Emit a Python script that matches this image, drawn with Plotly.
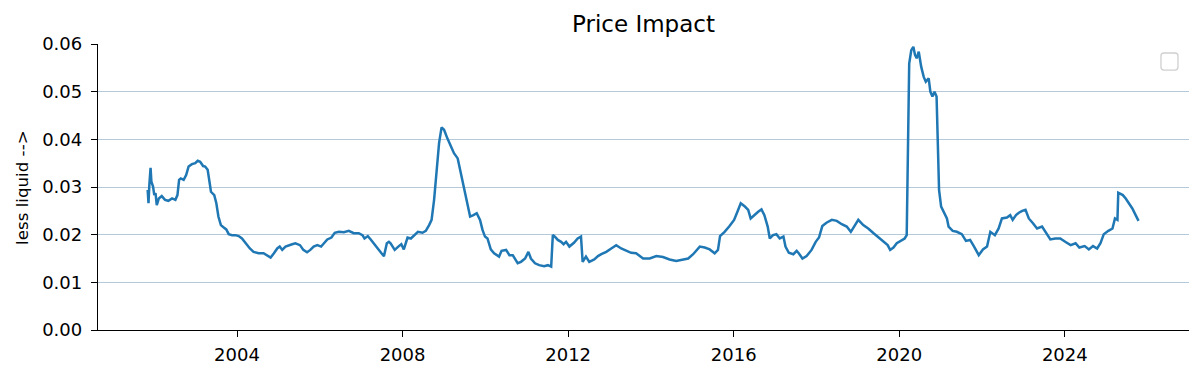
import pandas as pd
import plotly.graph_objects as go

# Decimal-year dates and price-impact values
years = [
    2001.84, 2001.86, 2001.88, 2001.91, 2001.93, 2001.97, 2002.00, 2002.03, 2002.06, 2002.11,
    2002.18, 2002.26, 2002.34, 2002.43, 2002.51, 2002.56, 2002.60, 2002.64, 2002.71, 2002.77,
    2002.83, 2002.91, 2002.99, 2003.05, 2003.11, 2003.18, 2003.23, 2003.29, 2003.34, 2003.37,
    2003.45, 2003.50, 2003.55, 2003.61, 2003.68, 2003.74, 2003.80, 2003.88, 2003.96, 2004.04,
    2004.12, 2004.20, 2004.31, 2004.40, 2004.52, 2004.64, 2004.73, 2004.81, 2004.89, 2004.97,
    2005.03, 2005.09, 2005.17, 2005.25, 2005.33, 2005.41, 2005.52, 2005.60, 2005.69, 2005.77,
    2005.85, 2005.94, 2006.03, 2006.10, 2006.18, 2006.28, 2006.36, 2006.46, 2006.58, 2006.70,
    2006.82, 2006.94, 2007.03, 2007.08, 2007.16, 2007.23, 2007.31, 2007.40, 2007.49, 2007.55,
    2007.62, 2007.67, 2007.71,
    2007.81, 2007.91, 2007.97, 2008.03, 2008.12, 2008.20, 2008.28, 2008.37, 2008.48, 2008.56,
    2008.64, 2008.70, 2008.76, 2008.83, 2008.88, 2008.94, 2009.00, 2009.08, 2009.18, 2009.24,
    2009.33, 2009.39, 2009.45, 2009.53, 2009.58, 2009.63, 2009.71, 2009.79, 2009.87, 2009.93,
    2009.99, 2010.05, 2010.13, 2010.21, 2010.33, 2010.39, 2010.50, 2010.58, 2010.66, 2010.78,
    2010.86, 2010.96, 2011.04, 2011.10, 2011.20, 2011.30, 2011.42, 2011.51, 2011.59, 2011.63,
    2011.68, 2011.75, 2011.83, 2011.89, 2011.95, 2012.03, 2012.14, 2012.23, 2012.31, 2012.35,
    2012.43, 2012.51, 2012.63, 2012.72, 2012.80, 2012.92, 2013.04, 2013.16, 2013.28, 2013.40,
    2013.52, 2013.64, 2013.81, 2013.97, 2014.13, 2014.29, 2014.45, 2014.61, 2014.73,
    2014.90, 2015.02, 2015.10, 2015.18, 2015.30, 2015.42, 2015.54, 2015.62, 2015.67, 2015.78,
    2015.90, 2016.01, 2016.09, 2016.17, 2016.27, 2016.35, 2016.41, 2016.49, 2016.59, 2016.67,
    2016.74, 2016.82, 2016.87, 2016.95, 2017.03, 2017.11, 2017.20, 2017.25, 2017.33, 2017.44,
    2017.52, 2017.57, 2017.66, 2017.76, 2017.88, 2017.98, 2018.06, 2018.14, 2018.24, 2018.37,
    2018.49, 2018.61, 2018.73, 2018.83, 2018.92, 2019.01, 2019.13, 2019.25, 2019.38, 2019.50,
    2019.62, 2019.72, 2019.78, 2019.86, 2019.94, 2020.04, 2020.13, 2020.18,
    2020.21, 2020.24, 2020.29, 2020.34, 2020.38, 2020.42, 2020.47, 2020.53, 2020.59, 2020.64,
    2020.71, 2020.75, 2020.80, 2020.85, 2020.90, 2020.93, 2020.96, 2021.01, 2021.09, 2021.15,
    2021.19, 2021.29, 2021.39, 2021.51, 2021.61, 2021.71, 2021.80, 2021.92, 2022.02, 2022.12,
    2022.20, 2022.31, 2022.40, 2022.48, 2022.60, 2022.68, 2022.74, 2022.82, 2022.89, 2022.97,
    2023.05, 2023.13, 2023.23, 2023.33, 2023.45, 2023.55, 2023.65, 2023.77, 2023.89, 2024.01,
    2024.14, 2024.26, 2024.35, 2024.48, 2024.58, 2024.68, 2024.78, 2024.86, 2024.94, 2025.05,
    2025.15, 2025.21, 2025.27, 2025.29, 2025.35, 2025.40, 2025.47, 2025.55, 2025.63, 2025.71,
    2025.78,
]

price_impact = [
    0.0294, 0.0266, 0.0304, 0.0340, 0.0311, 0.0301, 0.0283, 0.0287, 0.0262, 0.0276,
    0.0281, 0.0273, 0.0271, 0.0276, 0.0273, 0.0283, 0.0315, 0.0318, 0.0315, 0.0325,
    0.0343, 0.0348, 0.0350, 0.0355, 0.0353, 0.0344, 0.0343, 0.0336, 0.0308, 0.0290,
    0.0283, 0.0266, 0.0238, 0.0220, 0.0215, 0.0211, 0.0201, 0.0199, 0.0199, 0.0197,
    0.0192, 0.0182, 0.0171, 0.0164, 0.0161, 0.0161, 0.0157, 0.0152, 0.0161, 0.0171,
    0.0175, 0.0168, 0.0175, 0.0178, 0.0180, 0.0182, 0.0178, 0.0168, 0.0163, 0.0168,
    0.0175, 0.0178, 0.0175, 0.0182, 0.0190, 0.0194, 0.0204, 0.0206, 0.0205, 0.0208,
    0.0203, 0.0203, 0.0199, 0.0192, 0.0197, 0.0190, 0.0180, 0.0171, 0.0161, 0.0155,
    0.0182, 0.0185, 0.0182,
    0.0168, 0.0176, 0.0180, 0.0169, 0.0194, 0.0192, 0.0199, 0.0206, 0.0204, 0.0208,
    0.0220, 0.0231, 0.0273, 0.0343, 0.0392, 0.0425, 0.0420, 0.0402, 0.0381, 0.0371,
    0.0360, 0.0336, 0.0308, 0.0283, 0.0262, 0.0238, 0.0241, 0.0245, 0.0231, 0.0210,
    0.0196, 0.0192, 0.0169, 0.0161, 0.0154, 0.0166, 0.0168, 0.0157, 0.0157, 0.0140,
    0.0143, 0.0150, 0.0164, 0.0150, 0.0140, 0.0136, 0.0134, 0.0136, 0.0133, 0.0199,
    0.0196, 0.0189, 0.0185, 0.0180, 0.0185, 0.0175, 0.0183, 0.0192, 0.0196, 0.0143,
    0.0154, 0.0143, 0.0148, 0.0155, 0.0159, 0.0164, 0.0171, 0.0178, 0.0171, 0.0166,
    0.0162, 0.0161, 0.0150, 0.0150, 0.0155, 0.0153, 0.0148, 0.0145, 0.0147,
    0.0150, 0.0159, 0.0168, 0.0175, 0.0173, 0.0169, 0.0161, 0.0168, 0.0197, 0.0206,
    0.0218, 0.0231, 0.0248, 0.0266, 0.0259, 0.0252, 0.0234, 0.0241, 0.0248, 0.0253,
    0.0241, 0.0217, 0.0192, 0.0199, 0.0201, 0.0192, 0.0196, 0.0175, 0.0162, 0.0159,
    0.0166, 0.0161, 0.0150, 0.0155, 0.0168, 0.0185, 0.0194, 0.0218, 0.0225, 0.0231,
    0.0229, 0.0222, 0.0217, 0.0206, 0.0220, 0.0231, 0.0220, 0.0213, 0.0203, 0.0194,
    0.0187, 0.0178, 0.0168, 0.0173, 0.0182, 0.0187, 0.0192, 0.0199,
    0.0350, 0.0559, 0.0587, 0.0594, 0.0577, 0.0570, 0.0584, 0.0552, 0.0531, 0.0521,
    0.0528, 0.0500, 0.0490, 0.0500, 0.0490, 0.0385, 0.0294, 0.0259, 0.0245, 0.0234,
    0.0217, 0.0208, 0.0206, 0.0201, 0.0187, 0.0189, 0.0176, 0.0157, 0.0169, 0.0175,
    0.0206, 0.0199, 0.0213, 0.0234, 0.0236, 0.0241, 0.0231, 0.0241, 0.0246, 0.0250,
    0.0252, 0.0234, 0.0224, 0.0213, 0.0217, 0.0203, 0.0190, 0.0192, 0.0192, 0.0185,
    0.0178, 0.0182, 0.0173, 0.0176, 0.0169, 0.0176, 0.0171, 0.0182, 0.0201, 0.0208,
    0.0213, 0.0234, 0.0231, 0.0288, 0.0285, 0.0283, 0.0276, 0.0266, 0.0255, 0.0241,
    0.0229,
]

y_ticks = [0.00, 0.01, 0.02, 0.03, 0.04, 0.05, 0.06]
y_tick_labels = ["0.00", "0.01", "0.02", "0.03", "0.04", "0.05", "0.06"]
x_tick_years = [2004, 2008, 2012, 2016, 2020, 2024]
x_range_years = [2000.64, 2027.0]


def to_date(y):
    yr = int(y)
    start = pd.Timestamp(year=yr, month=1, day=1)
    end = pd.Timestamp(year=yr + 1, month=1, day=1)
    return start + (end - start) * (y - yr)


dates = [to_date(y) for y in years]

FONT = "DejaVu Sans"

fig = go.Figure()
fig.add_trace(go.Scatter(
    x=dates, y=price_impact, mode="lines",
    line=dict(color="#1f77b4", width=2.5),
    showlegend=False, hoverinfo="x+y",
))

# empty legend box (top right)
x0, x1 = 0.9743, 0.9899
y0, y1 = 0.909, 0.9685
rx, ry = 0.0028, 0.0105
path = (f"M {x0+rx},{y1} L {x1-rx},{y1} Q {x1},{y1} {x1},{y1-ry} "
        f"L {x1},{y0+ry} Q {x1},{y0} {x1-rx},{y0} L {x0+rx},{y0} "
        f"Q {x0},{y0} {x0},{y0+ry} L {x0},{y1-ry} Q {x0},{y1} {x0+rx},{y1} Z")
fig.add_shape(type="path", path=path, xref="paper", yref="paper",
              line=dict(color="#d0d0d0", width=1.3), fillcolor="rgba(255,255,255,0.8)")

fig.add_annotation(text="less liquid -->", textangle=-90, xref="paper", yref="paper",
                   x=-0.0697, y=0.5, xanchor="center", yanchor="middle", showarrow=False,
                   font=dict(family=FONT, size=16.7, color="black"))

fig.update_layout(
    width=1200, height=378,
    margin=dict(l=98, r=11, t=44, b=48),
    paper_bgcolor="white", plot_bgcolor="white",
    font=dict(family=FONT, size=18, color="black"),
    title=dict(text="Price Impact", x=0.5, xref="paper", xanchor="center",
               y=1 - 24 / 378, yref="container", yanchor="middle",
               font=dict(family=FONT, size=23, color="black")),
    showlegend=False,
)

fig.update_xaxes(
    range=[to_date(x_range_years[0]), to_date(x_range_years[1])],
    tickvals=[to_date(y) for y in x_tick_years],
    ticktext=[str(y) for y in x_tick_years],
    showgrid=False, zeroline=False,
    showline=True, linecolor="black", linewidth=1.3,
    ticks="outside", ticklen=6, tickwidth=1.3, tickcolor="black",
    ticklabelstandoff=2,
    tickfont=dict(family=FONT, size=18, color="black"),
)
fig.update_yaxes(
    range=[0, 0.0600001],
    tickvals=y_ticks, ticktext=y_tick_labels,
    showgrid=True, gridcolor="#b4cadb", gridwidth=1.2,
    zeroline=False,
    showline=True, linecolor="black", linewidth=1.3,
    ticks="outside", ticklen=6, tickwidth=1.3, tickcolor="black",
    ticklabelstandoff=5,
    tickfont=dict(family=FONT, size=18, color="black"),
)

fig.write_html("out.html", config={"displayModeBar": False},
               post_script="document.body.style.margin='0';")
